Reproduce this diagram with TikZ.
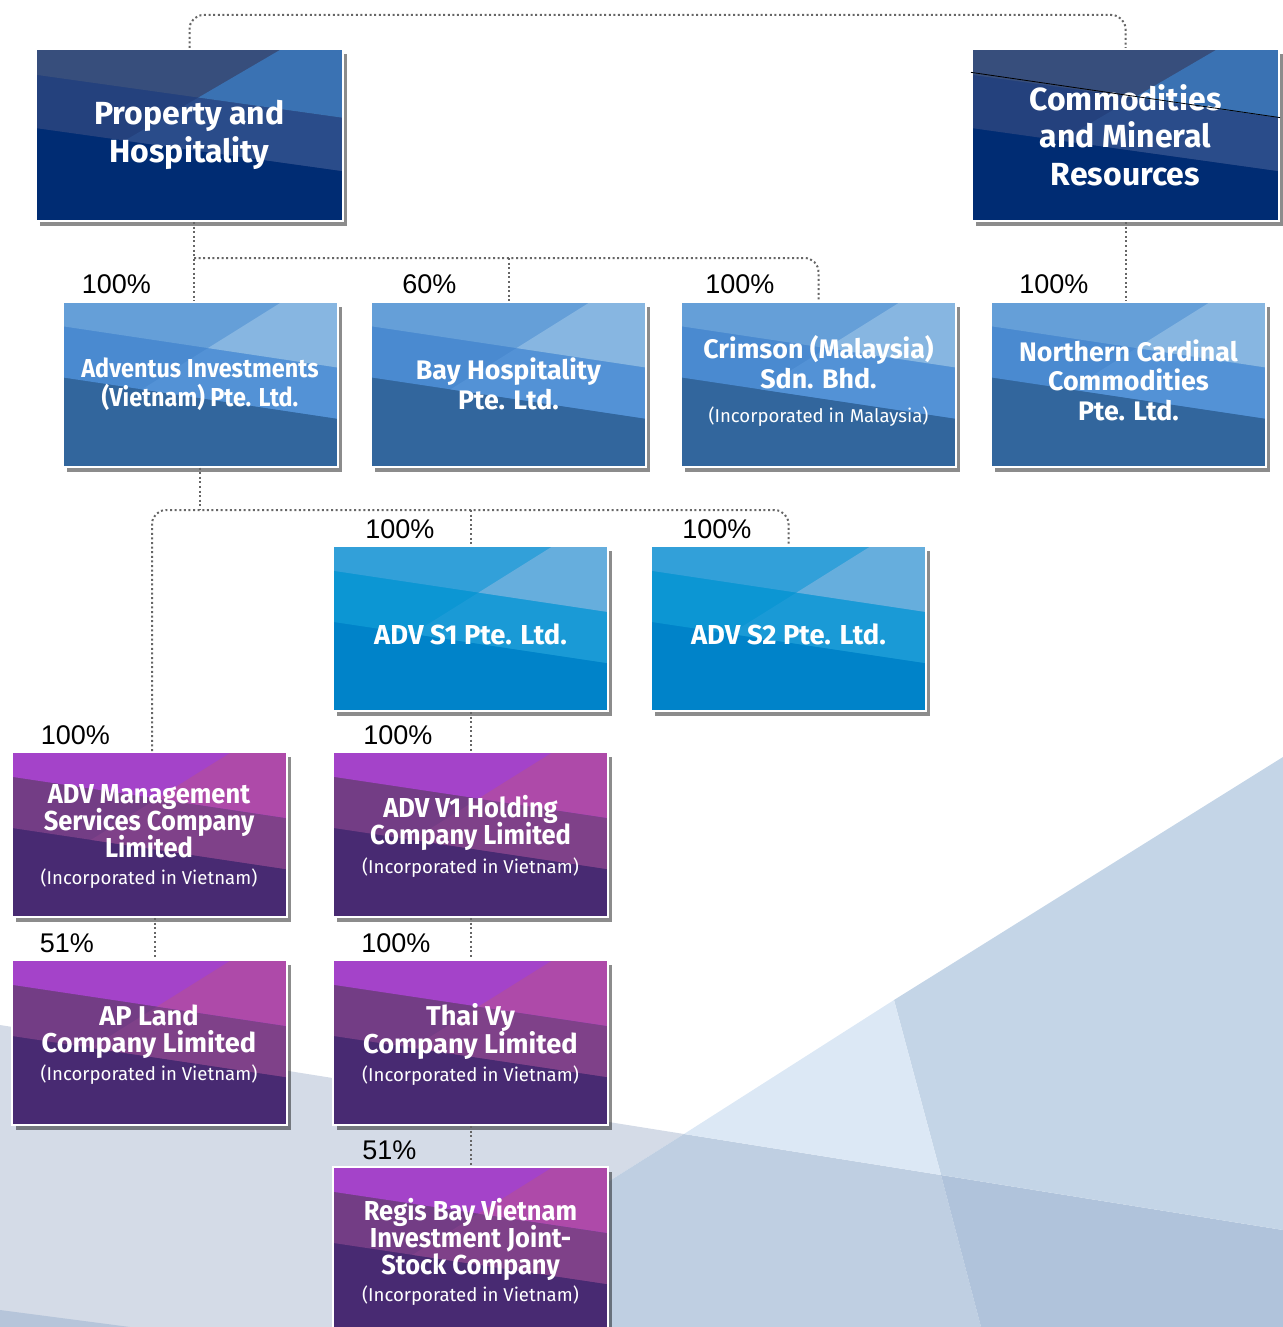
\documentclass[tikz,border=0pt]{standalone}
\usepackage{fontspec}
\newfontfamily\boxfont{Fira Sans}
\newfontfamily\condfont[FakeStretch=0.9]{Fira Sans}
\newfontfamily\narrowfont[FakeStretch=0.93]{Fira Sans}
\newfontfamily\pctfont{Liberation Sans}
\usetikzlibrary{positioning,calc,shadows}

\definecolor{navyA}{HTML}{374E7C}
\definecolor{navyB}{HTML}{3A72B3}
\definecolor{navyC}{HTML}{24417D}
\definecolor{navyD}{HTML}{2A4C8A}
\definecolor{navyE}{HTML}{002C73}
\definecolor{blueA}{HTML}{659FD8}
\definecolor{blueB}{HTML}{87B6E1}
\definecolor{blueC}{HTML}{4A8AD0}
\definecolor{blueD}{HTML}{5392D6}
\definecolor{blueE}{HTML}{32669D}
\definecolor{skyA}{HTML}{32A0D9}
\definecolor{skyB}{HTML}{66AEDD}
\definecolor{skyC}{HTML}{0C96D3}
\definecolor{skyD}{HTML}{1A9AD6}
\definecolor{skyE}{HTML}{0083C9}
\definecolor{plumA}{HTML}{A443C9}
\definecolor{plumB}{HTML}{AE4AA9}
\definecolor{plumC}{HTML}{733D85}
\definecolor{plumD}{HTML}{7F4189}
\definecolor{plumE}{HTML}{482A72}
\definecolor{bgGray}{HTML}{D4DBE7}
\definecolor{bgPale}{HTML}{DCE8F5}
\definecolor{bgLight}{HTML}{C4D5E7}
\definecolor{bgMid}{HTML}{BFCFE2}
\definecolor{bgDark}{HTML}{B0C3DB}
\definecolor{bgSliver}{HTML}{B6C5DA}

\newcommand{\incorp}[1]{{\fontsize{9.3}{11}\boxfont\mdseries (Incorporated in #1)}}
\newcommand{\tightlines}{\lineskiplimit=-20pt\relax}

\begin{document}
\begin{tikzpicture}[x=0.5pt, y=-0.5pt,
    boxfill/.style n args={5}{fill=#5, path picture={
        \coordinate (nw) at (path picture bounding box.north west);
        \coordinate (ne) at (path picture bounding box.north east);
        \coordinate (sw) at (path picture bounding box.south west);
        \coordinate (se) at (path picture bounding box.south east);
        \coordinate (l1) at ($(nw)!0.15!(sw)$);
        \coordinate (r1) at ($(ne)!0.40!(se)$);
        \coordinate (l2) at ($(nw)!0.46!(sw)$);
        \coordinate (r2) at ($(ne)!0.71!(se)$);
        \coordinate (d0) at ($(nw)!0.80!(ne)$);
        \coordinate (d1) at ($(l1)!0.529!(r1)$);
        \coordinate (d2) at ($(l2)!0.289!(r2)$);
        \fill[#3] (nw) -- (ne) -- (r2) -- (l2) -- cycle;
        \fill[#4] (d1) -- (r1) -- (r2) -- (d2) -- cycle;
        \fill[#1] (nw) -- (ne) -- (r1) -- (l1) -- cycle;
        \fill[#2] (d0) -- (ne) -- (r1) -- (d1) -- cycle;}},
    orgbox/.style={draw=white, line width=1pt, text=white, align=center, inner sep=2pt,
        drop shadow={shadow xshift=2.2pt, shadow yshift=-2.5pt, fill=black, opacity=0.45}},
    headbox/.style={orgbox, boxfill={navyA}{navyB}{navyC}{navyD}{navyE},
        minimum width=153.5pt, minimum height=86pt, font=\fontsize{16}{18.7}\boxfont\bfseries\tightlines},
    subbox/.style={orgbox, boxfill={blueA}{blueB}{blueC}{blueD}{blueE},
        minimum width=137.5pt, minimum height=82.5pt, font=\fontsize{13.4}{14.8}\boxfont\bfseries\tightlines},
    skybox/.style={orgbox, boxfill={skyA}{skyB}{skyC}{skyD}{skyE}, text height=16pt, text depth=0pt,
        minimum width=137.5pt, minimum height=82.5pt, font=\fontsize{13.7}{15}\boxfont\bfseries},
    plumbox/.style={orgbox, boxfill={plumA}{plumB}{plumC}{plumD}{plumE}, text depth=0pt,
        minimum width=137.5pt, minimum height=82.5pt, font=\fontsize{13.7}{13.5}\narrowfont\bfseries\tightlines},
    link/.style={draw=black!60, line width=1pt, dash pattern=on 1pt off 1.3pt, rounded corners=7pt},
    pct/.style={font=\fontsize{13.5}{16}\pctfont, anchor=base west, inner sep=0pt}
]
\useasboundingbox (0,0) rectangle (1283,1327);

% Background
\fill[bgGray] (0,1025) -- (684,1134) -- (378,1327) -- (0,1327) -- cycle;
\fill[bgSliver] (0,1310) -- (130,1327) -- (0,1327) -- cycle;
\fill[bgMid] (684,1134) -- (941,1175) -- (981,1327) -- (378,1327) -- cycle;
\fill[bgDark] (941,1175) -- (1283,1230) -- (1283,1327) -- (981,1327) -- cycle;
\fill[bgLight] (894,1000) -- (1283,757) -- (1283,1230) -- (941,1175) -- cycle;
\fill[bgPale] (894,1000) -- (941,1175) -- (684,1134) -- cycle;

% Boxes
\node[headbox] (prop) at (189.5,135) {Property and\\Hospitality};
\node[headbox] (comm) at (1125.5,135) {Commodities\\and Mineral\\Resources};

\node[subbox, font=\fontsize{13}{14.8}\condfont\bfseries] (adv) at (200,384) {Adventus Investments\\(Vietnam) Pte. Ltd.};
\node[subbox] (bay) at (508.5,384) {Bay Hospitality\\Pte. Ltd.};
\node[subbox, text depth=5pt] (crim) at (818.5,384) {Crimson (Malaysia)\\Sdn. Bhd.\\[2pt]\incorp{Malaysia}};
\node[subbox, text depth=4pt] (ncc) at (1128.5,384) {Northern Cardinal\\Commodities\\Pte. Ltd.};

\node[skybox] (s1) at (470.5,628.5) {ADV S1 Pte. Ltd.};
\node[skybox] (s2) at (788.5,628.5) {ADV S2 Pte. Ltd.};

\node[plumbox] (mgmt) at (149,834.5) {ADV Management\\Services Company\\Limited\\\incorp{Vietnam}};
\node[plumbox] (v1) at (470.5,834.5) {ADV V1 Holding\\Company Limited\\[1pt]\incorp{Vietnam}};
\node[plumbox, font=\fontsize{13.6}{13.8}\boxfont\bfseries\tightlines] (apl) at (149,1042.5) {AP Land\\Company Limited\\\incorp{Vietnam}};
\node[plumbox, font=\fontsize{13.6}{13.8}\boxfont\bfseries\tightlines] (thai) at (470.5,1042.5) {Thai Vy\\Company Limited\\\incorp{Vietnam}};
\node[plumbox] (regis) at (470.5,1249.5) {Regis Bay Vietnam\\Investment Joint-\\Stock Company\\\incorp{Vietnam}};

\draw[black, line width=0.4pt] ($(comm.north west)!0.14!(comm.south west)$) -- ($(comm.north east)!0.40!(comm.south east)$);

% Links
\coordinate (j1) at (194,258);
\coordinate (j2) at (198,510);
\draw[link] (prop.north) -- ++(0,-33) -| (comm.north);
\draw[link] (prop.south -| j1) -- (j1) -- (adv.north -| j1);
\draw[link] (j1) -| (crim.north);
\draw[link] (bay.north |- j1) -- (bay.north);
\draw[link] (comm.south) -- (comm.south |- ncc.north);
\draw[link] (adv.south) -- (adv.south |- j2);
\draw[link] ([xshift=1.5pt]mgmt.north) |- (j2) -| (s2.north);
\draw[link] (s1.north |- j2) -- (s1.north);
\foreach \a/\b in {s1/v1, v1/thai, thai/regis} {
    \draw[link] (\a) -- (\b);
}
\draw[link] ([xshift=3pt]mgmt.south) -- ([xshift=3pt]apl.north);

% Shares
\foreach \b/\p/\dx in {adv/100/20, bay/60/32, crim/100/25, ncc/100/29, s1/100/33, s2/100/32,
    mgmt/100/30, v1/100/31, apl/51/29, thai/100/29, regis/51/30} {
    \node[pct] (p-\b) at ([shift={(\dx,-7)}]\b.north west) {\p\%};
}

\end{tikzpicture}
\end{document}
